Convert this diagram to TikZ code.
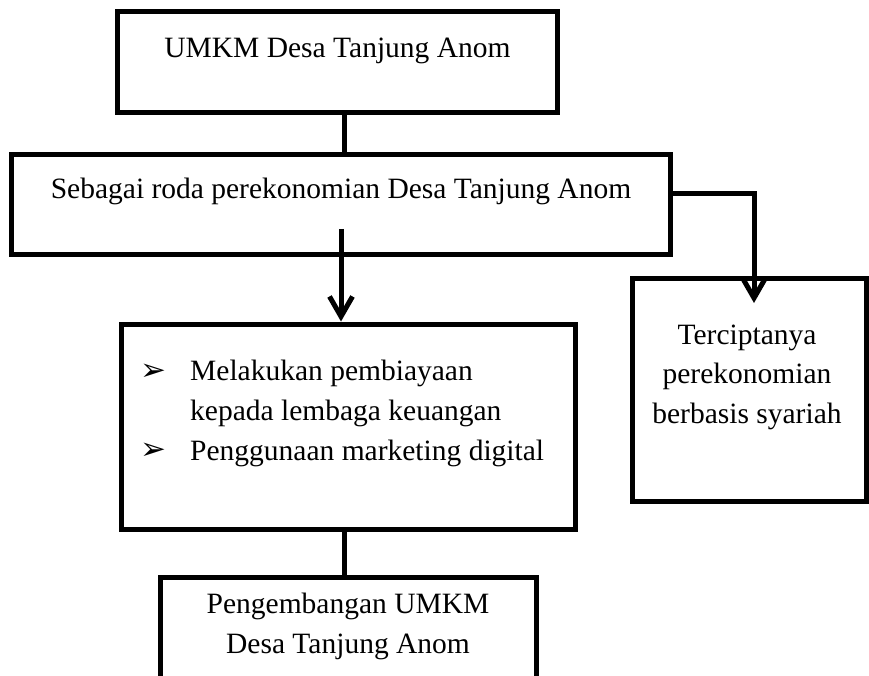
\documentclass[tikz,border=0pt]{standalone}
\usepackage{fontspec}
\setmainfont{Liberation Serif}
\newfontfamily\dingfont{DejaVu Sans}
\usetikzlibrary{arrows.meta}
\tikzset{>={Straight Barb[length=20pt,width=23pt]}}
\tikzset{
	box/.style={draw,line width=5pt,inner sep=0pt},
	lbl/.style={font=\fontsize{29.5}{39.5}\selectfont,inner sep=0pt,anchor=base},
	bulletmark/.style={font=\dingfont\fontsize{31}{31}\selectfont,inner sep=0pt},
	link/.style={line width=5pt},
}

\begin{document}
\begin{tikzpicture}[x=1pt,y=-1pt]
		\useasboundingbox (0,0) rectangle (869,676);
		\clip (0,0) rectangle (869,676);

		% boxes
		\node[box,minimum width=440.6pt,minimum height=101pt] (umkm) at (337.3,62.5) {};
		\node[box,minimum width=659pt,minimum height=100.5pt] (roda) at (340.5,204.3) {};
		\node[box,minimum width=454pt,minimum height=205pt] (ideas) at (348,426.5) {};
		\node[box,minimum width=233.4pt,minimum height=222.5pt] (goal) at (749.3,389.8) {};
		\node[box,minimum width=376pt,minimum height=200pt,anchor=north] (dev) at (348,574.7) {};

		% texts (base = last line)
		\node[lbl] (umkmtxt) at (337.5,57.5) {UMKM Desa Tanjung Anom};
		\node[lbl] (rodatxt) at (341,198.5) {Sebagai roda perekonomian Desa Tanjung Anom};
		\node[bulletmark] (mark1) at (153,372) {➢};
		\node[bulletmark] (mark2) at (153,451) {➢};
		\node[lbl,anchor=base west,align=left] (item1) at (190,420) {Melakukan pembiayaan\\kepada lembaga keuangan};
		\node[lbl,anchor=base west] (item2) at (190,460) {Penggunaan marketing digital};
		\node[lbl,align=center] (goaltxt) at (747,423) {Terciptanya\\perekonomian\\berbasis syariah};
		\node[lbl,align=center] (devtxt) at (348,653) {Pengembangan UMKM\\Desa Tanjung Anom};

		% connectors
		\coordinate (spine) at (344,0);
		\coordinate (drop) at (341,229);
		\coordinate (turn) at (754,194);
		\coordinate (tip) at (754,303);
		\draw[link] (umkm.south -| spine) -- (roda.north -| spine);
		\draw[link,->] (drop) -- (ideas.north -| drop);
		\draw[link,->] (roda.east |- turn) -- (turn) -- (tip);
		\draw[link] (ideas.south -| spine) -- (dev.north -| spine);
	\end{tikzpicture}
\end{document}
